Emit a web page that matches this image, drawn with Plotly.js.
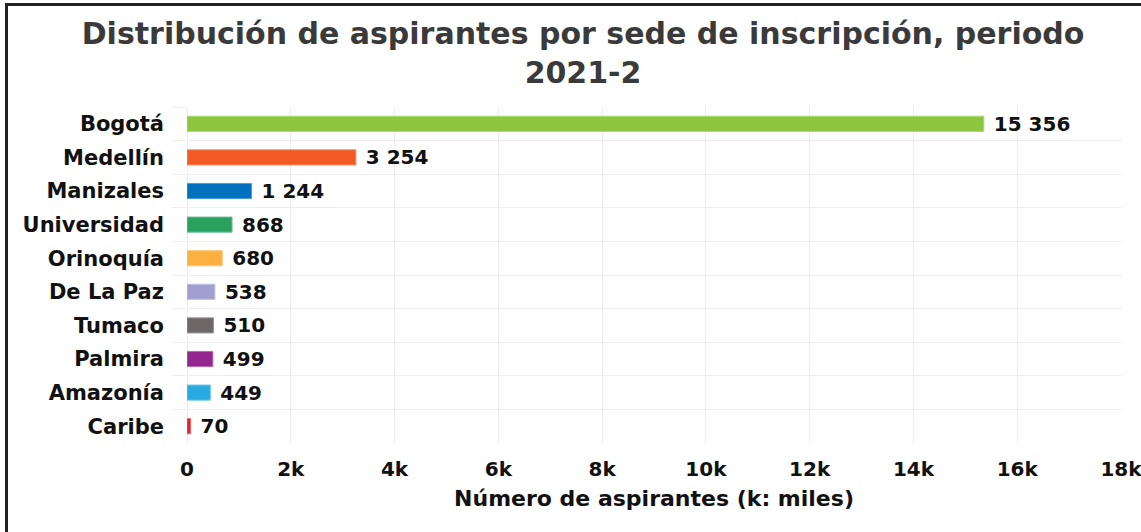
<!DOCTYPE html>
<html>
<head>
<meta charset="utf-8">
<script src="https://cdn.plot.ly/plotly-3.0.1.min.js"></script>
<style>
  html, body { margin: 0; padding: 0; background: #fff; }
  #wrap { position: relative; width: 1141px; height: 532px; overflow: hidden; }
  #chart { position: absolute; left: 0; top: 0; width: 1141px; height: 532px; }
  #frame { position: absolute; left: 5px; top: 3px; width: 1140px; height: 532px;
           border-left: 3px solid #222; border-top: 3px solid #222; pointer-events: none; }
</style>
</head>
<body>
<div id="wrap">
  <div id="chart"></div>
  <div id="frame"></div>
</div>
<script>
const sedes = ["Bogotá", "Medellín", "Manizales", "Universidad", "Orinoquía", "De La Paz", "Tumaco", "Palmira", "Amazonía", "Caribe"];
const aspirantes = [15356, 3254, 1244, 868, 680, 538, 510, 499, 449, 70];
const colores = ["#8dc63f", "#f15a24", "#0071bc", "#2ba160", "#fbb040", "#a29fd0", "#6d6768", "#93278f", "#29abe2", "#d7262b"];
const bordes = ["#a9d86f", "#f68a62", "#4b9ad6", "#6cc092", "#fcc97a", "#c2c0e2", "#9a9596", "#b868b4", "#6cc6ec", "#e56669"];
const titulo = "Distribución de aspirantes por sede de inscripción, periodo<br>2021-2";
const tituloX = "Número de aspirantes (k: miles)";
const xTicks = [0, 2000, 4000, 6000, 8000, 10000, 12000, 14000, 16000, 18000];

const FONT = "DejaVu Sans";

const trace = {
  type: "bar",
  orientation: "h",
  y: sedes,
  x: aspirantes,
  marker: { color: colores, line: { color: bordes, width: 1 } },
  texttemplate: " %{x:,}",
  textposition: "outside",
  constraintext: "none",
  cliponaxis: false,
  textfont: { family: FONT, size: 20, weight: 700, color: "#111" },
  hoverinfo: "x+y"
};

const layout = {
  width: 1141,
  height: 532,
  separators: ", ",
  paper_bgcolor: "#fff",
  plot_bgcolor: "#fff",
  showlegend: false,
  bargap: 0.55,
  margin: { l: 187, r: 20, t: 107, b: 89 },
  title: {
    text: titulo,
    font: { family: FONT, size: 30, weight: 700, color: "#3a3a3a" },
    x: 0.511, xanchor: "center",
    y: 0.918, yanchor: "top", yref: "container"
  },
  xaxis: {
    range: [0, 18000],
    tickvals: xTicks,
    ticktext: xTicks.map(v => v === 0 ? "0" : (v / 1000) + "k"),
    ticklabeloverflow: "allow",
    showgrid: true,
    gridcolor: "#eeeeee",
    gridwidth: 1,
    zeroline: true,
    zerolinecolor: "#eeeeee",
    showline: false,
    ticks: "outside",
    ticklen: 8,
    tickcolor: "rgba(0,0,0,0)",
    tickfont: { family: FONT, size: 20, weight: 700, color: "#111" },
    title: {
      text: tituloX,
      font: { family: FONT, size: 22, weight: 700, color: "#111" },
      standoff: 10
    }
  },
  yaxis: {
    type: "category",
    autorange: "reversed",
    tickson: "boundaries",
    ticks: "outside",
    ticklen: 14,
    tickcolor: "#eeeeee",
    ticklabelstandoff: 22,
    showgrid: true,
    gridcolor: "#eeeeee",
    showline: false,
    zeroline: false,
    tickfont: { family: FONT, size: 21, weight: 700, color: "#111" }
  }
};

Plotly.newPlot("chart", [trace], layout, { displayModeBar: false });
</script>
</body>
</html>
